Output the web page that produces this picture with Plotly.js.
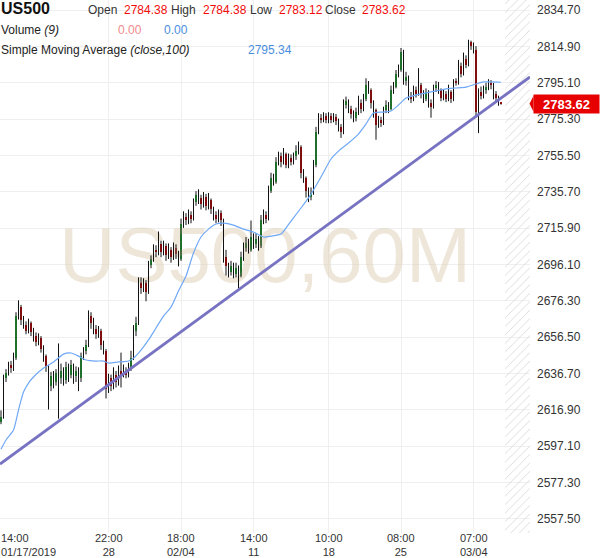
<!DOCTYPE html>
<html><head><meta charset="utf-8">
<script src="https://cdn.plot.ly/plotly-3.0.1.min.js"></script>
<style>html,body{margin:0;padding:0;background:#fff}#chart{width:600px;height:558px}</style>
</head><body><div id="chart"></div>
<script>
const symbol = "US500";
const watermark = "US500,60M";
const lastBar = {open: 2784.38, high: 2784.38, low: 2783.12, close: 2783.62};
const volumeVals = ["0.00", "0.00"];
const smaLast = 2795.34;

const opens = [2610,2613,2634,2637,2641,2639.5,2645,2668,2673,2666,
2663,2660,2664,2659,2657,2654,2656,2650,2646,2640,
2630,2635,2632,2637,2634,2638,2633,2640,2636,2641,
2635,2638,2634,2646,2649,2652,2668,2664,2661,2658,
2660,2652,2649,2628,2634,2630,2636,2632,2638,2636,
2638,2636,2640,2645,2660,2664,2686,2683,2686,2681,
2696,2699,2704,2703,2707,2703,2706,2701,2704,2700,
2705,2702,2699,2718,2722,2720,2723,2721,2730,2734,
2732,2729,2733,2728,2731,2726,2723,2721,2724,2720,
2700,2695,2692,2695,2691,2694,2690,2700,2705,2708,
2704,2711,2707,2710,2706,2720,2723,2721,2736,2743,
2741,2752,2755,2752,2756,2750,2754,2752,2755,2758,
2760,2746,2743,2736,2733,2735,2750,2768,2776,2775,
2777,2774.5,2777,2775,2776.5,2774,2771,2768,2783,2785,
2781,2778,2776,2779,2784,2781,2786,2794,2791,2784,
2780,2772,2775,2773,2780,2783,2781,2791,2793,2800,
2802,2812,2796,2798,2788,2786,2791,2789,2794,2789,
2786,2790,2784,2782,2792,2794,2791,2787,2789,2786,
2790,2786,2796,2795,2804,2800,2808,2805,2817,2815,
2813,2779,2790,2788,2791,2793,2795,2794,2789,2787,
2784.38];
const highs = [2616.5,2636,2639,2643,2643.5,2648,2670,2676.5,2674,2668,
2665,2666.5,2665,2661.5,2659,2658.5,2657,2652,2647,2641,
2637.5,2638,2639,2653,2642,2640,2643,2642,2644,2642,
2640.5,2640,2648,2651,2655,2671,2670,2667,2663,2662.5,
2661,2654.5,2650,2636.5,2636,2640,2638,2641,2648,2641.5,
2640,2642.5,2649,2663,2667.5,2689,2689,2688.5,2687.5,2698,
2701,2707,2706.5,2714,2709,2709,2707.5,2707.5,2705.5,2708,
2707,2703.5,2721,2725,2724,2726,2725,2732,2736,2737,
2734,2735.5,2734.5,2735,2732,2727.5,2725,2726,2725.5,2721,
2704,2697,2698,2697,2697,2695.5,2703,2708,2711,2710,
2720,2713,2713,2711.5,2723,2726,2725,2739,2746,2745.5,
2754.5,2757.5,2757,2759.5,2757,2756.5,2756,2757,2761,2763,
2761,2748,2744,2738,2738,2753,2771,2778.5,2778,2779,
2778.5,2779,2778.5,2778.5,2778,2775.5,2772.5,2786,2787.5,2786,
2782.5,2780,2781.5,2788,2786,2789,2797.5,2796,2792,2785.5,
2781,2777,2776.5,2782,2785.5,2784.5,2793.5,2795.5,2802,2805,
2814,2813,2801,2799,2790,2793.5,2793,2803,2795,2791,
2792,2791,2786,2794,2796,2795.5,2792,2791.5,2790.5,2794,
2791,2797,2797.5,2807.5,2806,2811.5,2810,2818.5,2818,2817,
2815,2792,2793,2793.5,2795,2797,2796.5,2795,2790.5,2788,
2784.38];
const lows = [2609,2612,2632,2635.5,2637,2638,2644,2666,2663,2661,
2658,2658.5,2657,2654,2651.5,2652,2648,2643,2637.5,2617,
2627,2628.5,2630,2612,2631,2630,2631,2632,2634,2631,
2632,2627,2632,2644,2647,2651,2661,2658,2655.5,2656,
2649.5,2647,2623,2626,2627,2628,2629,2630,2629,2634.5,
2634,2634.5,2638,2644,2657,2663,2680,2681,2676,2680,
2694,2697.5,2700,2701,2700,2701,2698,2699,2697,2698.5,
2699,2695,2698,2716,2717.5,2718,2718.5,2720,2728,2729,
2726,2727,2725.5,2726,2723.5,2720,2718.5,2719,2717,2697,
2690,2689,2690,2688.5,2689,2683,2689,2698,2703,2702,
2703,2704.5,2705,2703.5,2705,2718,2718.5,2720,2735,2739,
2740,2750,2749,2750.5,2748.5,2748.5,2750,2750.5,2753,2756,
2743,2740.5,2732.5,2730,2731,2734,2749,2767,2773,2773.5,
2773,2773,2773,2773.5,2772,2768.5,2765,2767,2781,2778.5,
2775.5,2773.5,2774,2777.5,2778.5,2779.5,2785,2789,2781,2776,
2764,2770.5,2771,2772,2778.5,2778.5,2780,2789,2792,2798,
2801,2794,2793.5,2785.5,2784,2785,2787,2788,2786.5,2784,
2785,2781.5,2776,2781,2790,2789,2785,2785.5,2784.5,2785,
2784,2785,2793.5,2794,2798,2799,2803,2804,2813,2811,
2777,2767.6,2786,2786.5,2789,2791,2791.5,2786,2785,2782.5,
2783.12];
const closes = [2613,2634,2637,2641,2639.5,2645,2668,2673,2666,2663,
2660,2664,2659,2657,2654,2656,2650,2646,2640,2630,
2635,2632,2637,2634,2638,2633,2640,2636,2641,2635,
2638,2634,2646,2649,2652,2668,2664,2661,2658,2660,
2652,2649,2628,2634,2630,2636,2632,2638,2636,2638,
2636,2640,2645,2660,2664,2686,2683,2686,2681,2696,
2699,2704,2703,2707,2703,2706,2701,2704,2700,2705,
2702,2699,2718,2722,2720,2723,2721,2730,2734,2732,
2729,2733,2728,2731,2726,2723,2721,2724,2720,2700,
2695,2692,2695,2691,2694,2690,2700,2705,2708,2704,
2711,2707,2710,2706,2720,2723,2721,2736,2743,2741,
2752,2755,2752,2756,2750,2754,2752,2755,2758,2760,
2746,2743,2736,2733,2735,2750,2768,2776,2775,2777,
2774.5,2777,2775,2776.5,2774,2771,2768,2783,2785,2781,
2778,2776,2779,2784,2781,2786,2794,2791,2784,2780,
2772,2775,2773,2780,2783,2781,2791,2793,2800,2802,
2812,2796,2798,2788,2786,2791,2789,2794,2789,2786,
2790,2784,2782,2792,2794,2791,2787,2789,2786,2790,
2786,2796,2795,2804,2800,2808,2805,2817,2815,2813,
2779,2790,2788,2791,2793,2795,2794,2789,2787,2784.38,
2783.62];

const smaIdx = [0,2,5,7,9,11,13,17,21,25,28,31,34,38,41,43,47,51,53,56,59,62,65,68,71,74,77,80,83,86,89,93,97,101,105,108,112,116,120,124,128,132,135,139,143,146,149,153,156,159,162,166,170,174,178,182,186,190,193,196,200];
const smaVal = [2595.4,2600.4,2605.8,2616.7,2626.5,2631.4,2634.7,2639.6,2642.9,2647.2,2647.8,2646.1,2644.0,2643.4,2643.4,2642.3,2642.9,2643.4,2645.0,2649.4,2654.9,2661.4,2667.9,2672.8,2681.6,2689.7,2702.3,2711.0,2715.3,2718.1,2718.6,2717.5,2715.3,2713.7,2711.0,2711.5,2712.6,2719.7,2726.8,2734.4,2743.7,2753.5,2757.8,2762.2,2767.1,2772.6,2778.6,2779.1,2779.7,2782.9,2786.7,2788.4,2789.5,2790.6,2791.7,2792.2,2792.7,2794.4,2795.5,2795.5,2795.34];

const trendIdx = [-0.4, 211.6];
const trendPrice = [2587.3, 2798.2];

const yTicks = [2834.70,2814.90,2795.10,2775.30,2755.50,2735.70,2715.90,2696.10,2676.30,2656.50,2636.70,2616.90,2597.10,2577.30,2557.50];
const firstTick = ["14:00", "01/17/2019"];
const xTickIdx = [43,72,101,131,160,189];
const xTickTop = ["22:00","18:00","14:00","10:00","08:00","07:00"];
const xTickBottom = ["28","02/04","11","18","25","03/04"];

const xRange = [-0.4, 211.6];
const yRange = [2549.7, 2840.15];
const futureStart = 201.4;

const GREEN = '#2fcf45', RED = '#f20d0d', FONT = 'Arial, "Liberation Sans", sans-serif';

const n = closes.length;
const idx = closes.map((_, i) => i);
const wx = [], wy = [];
for (let i = 0; i < n; i++) { wx.push(i, i, null); wy.push(lows[i], highs[i], null); }
const base = closes.map((c, i) => Math.min(c, opens[i]));
const hgt = closes.map((c, i) => Math.max(Math.abs(c - opens[i]), 0.35));
const cols = closes.map((c, i) => c >= opens[i] ? GREEN : RED);

const traces = [
  {type:'scatter', mode:'text', x:[(xRange[0]+xRange[1])/2], y:[(yRange[0]+yRange[1])/2 + 2],
   text:[watermark], textfont:{size:78, family:FONT, color:'rgba(220,205,175,0.48)'}, hoverinfo:'skip', cliponaxis:false},
  {type:'bar', x:[(futureStart + xRange[1])/2], width:[xRange[1]-futureStart], base:[yRange[0]-50], y:[yRange[1]-yRange[0]+100],
   marker:{color:'rgba(255,255,255,0)', line:{width:0}, pattern:{shape:'/', fgcolor:'#d9d9d9', bgcolor:'rgba(255,255,255,0)', size:6, solidity:0.15}}, hoverinfo:'skip'},
  {type:'scatter', mode:'lines', x:wx, y:wy, line:{color:'#111', width:1}, hoverinfo:'skip'},
  {type:'bar', x:idx, base:base, y:hgt, width:0.78, marker:{color:cols, line:{width:0}}, hoverinfo:'skip'},
  {type:'scatter', mode:'lines', x:smaIdx, y:smaVal, line:{color:'#6fa8f5', width:1.2, shape:'spline', smoothing:0.6}, hoverinfo:'skip'},
  {type:'scatter', mode:'lines', x:trendIdx, y:trendPrice, line:{color:'#7773c2', width:2.8}, hoverinfo:'skip'}
];

const ann = [];
function t(text, px, py, size, color, extra) {
  ann.push(Object.assign({xref:'paper', yref:'paper', x:0, y:1, xshift:px, yshift:-py, xanchor:'left', yanchor:'middle',
    text:text, showarrow:false, font:{family:FONT, size:size, color:color}}, extra || {}));
}
t('<b>' + symbol + '</b>', -1, 8, 16, '#111');
t('Open', 86, 9.5, 12, '#333');
t(lastBar.open.toFixed(2), 122, 9.5, 12, RED);
t('High', 169, 9.5, 12, '#333');
t(lastBar.high.toFixed(2), 201, 9.5, 12, RED);
t('Low', 248, 9.5, 12, '#333');
t(lastBar.low.toFixed(2), 277, 9.5, 12, RED);
t('Close', 323, 9.5, 12, '#333');
t(lastBar.close.toFixed(2), 360, 9.5, 12, RED);
t('Volume <i>(9)</i>', -1, 29.5, 12, '#222');
t(volumeVals[0], 116, 29.5, 12, '#f08a8a');
t(volumeVals[1], 162, 29.5, 12, '#4a8ee0');
t('Simple Moving Average <i>(close,100)</i>', -1, 50, 12, '#222');
t(smaLast.toFixed(2), 246, 50, 12, '#4a8ee0');

// x tick labels (two-line, one text each)
ann.push({xref:'paper', yref:'paper', x:0, y:0, xshift:-1, yshift:-12, xanchor:'left', yanchor:'middle', showarrow:false,
  align:'left', text:firstTick[0] + '<br>' + firstTick[1], font:{family:FONT, size:11, color:'#333'}});
xTickIdx.forEach((v, k) => {
  ann.push({xref:'x', yref:'paper', x:v, y:0, yshift:-12, xanchor:'center', yanchor:'middle', showarrow:false,
    align:'center', text:xTickTop[k] + '<br>' + xTickBottom[k], font:{family:FONT, size:11, color:'#333'}});
});
// price tag
ann.push({xref:'paper', yref:'y', x:1, xshift:3, y:closes[n-1], xanchor:'left', yanchor:'middle', showarrow:false,
  text:'<b>' + closes[n-1].toFixed(2) + '</b>', font:{family:FONT, size:13, color:'#fff'},
  bgcolor:'#e60000', borderpad:2, width:61, height:14, align:'center'});

const layout = {
  width:600, height:558, margin:{l:0, r:70, t:0, b:25, pad:0},
  paper_bgcolor:'#fff', plot_bgcolor:'#fff', showlegend:false, barmode:'overlay', bargap:0,
  xaxis:{range:xRange, tickvals:xTickIdx, showticklabels:false, showgrid:true, gridcolor:'#efefef', gridwidth:1,
    zeroline:false, showline:false, ticks:'', fixedrange:true},
  yaxis:{range:yRange, side:'right', tickvals:yTicks, ticktext:yTicks.map(v => v.toFixed(2)), showgrid:true,
    gridcolor:'#efefef', gridwidth:1, zeroline:false, showline:false, ticks:'', ticklabelstandoff:6,
    tickfont:{family:FONT, size:12, color:'#333'}, fixedrange:true},
  annotations:ann,
  shapes:[{type:'path', xref:'paper', xsizemode:'pixel', xanchor:1, yref:'y', ysizemode:'pixel', yanchor:closes[n-1],
    path:'M -0.5,0 L 3.5,8 L 3.5,-8 Z', fillcolor:'#e60000', line:{width:0}, layer:'above'}]
};
Plotly.newPlot('chart', traces, layout, {staticPlot:true, displayModeBar:false});
</script></body></html>
